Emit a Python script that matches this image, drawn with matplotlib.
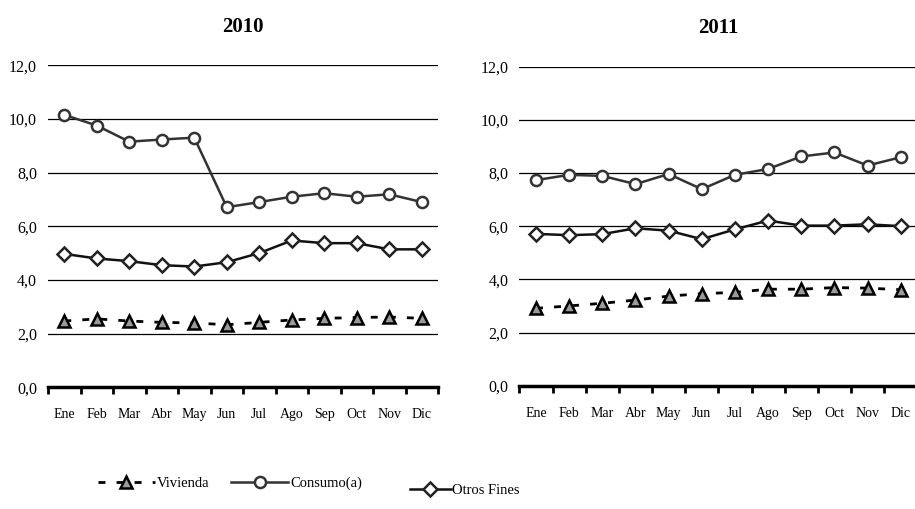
import matplotlib.pyplot as plt
from matplotlib.lines import Line2D
import numpy as np

plt.rcParams['font.family'] = ['Liberation Serif', 'DejaVu Serif']

meses = ["Ene", "Feb", "Mar", "Abr", "May", "Jun", "Jul", "Ago", "Sep", "Oct", "Nov", "Dic"]
anios = ["2010", "2011"]

vivienda_2010 = [2.47, 2.55, 2.47, 2.42, 2.40, 2.33, 2.42, 2.51, 2.57, 2.60, 2.62, 2.57]
consumo_2010 = [10.15, 9.75, 9.15, 9.23, 9.30, 6.71, 6.90, 7.10, 7.23, 7.10, 7.19, 6.90]
otros_2010 = [4.97, 4.80, 4.70, 4.55, 4.50, 4.66, 5.00, 5.47, 5.37, 5.37, 5.14, 5.14]

vivienda_2011 = [2.91, 3.00, 3.10, 3.22, 3.37, 3.46, 3.51, 3.63, 3.63, 3.69, 3.67, 3.61]
consumo_2011 = [7.73, 7.93, 7.89, 7.58, 7.96, 7.39, 7.93, 8.15, 8.62, 8.77, 8.28, 8.59]
otros_2011 = [5.71, 5.66, 5.70, 5.92, 5.83, 5.51, 5.88, 6.21, 6.02, 6.02, 6.07, 6.00]

datos = [(vivienda_2010, consumo_2010, otros_2010),
         (vivienda_2011, consumo_2011, otros_2011)]

fig = plt.figure(figsize=(9.15, 5.09), dpi=100)
posiciones = [[0.0525, 0.239, 0.4262, 0.633], [0.5677, 0.2422, 0.4348, 0.627]]

estilo_viv = dict(color="black", linestyle=(0, (2.5, 4)), linewidth=2, marker="^",
                  markersize=8, markerfacecolor="#9a9a9a", markeredgecolor="black",
                  markeredgewidth=1.8)
estilo_con = dict(color="#333333", linestyle="-", linewidth=1.8, marker="o",
                  markersize=8, markerfacecolor="white", markeredgecolor="#333333",
                  markeredgewidth=1.8)
estilo_otr = dict(color="#111111", linestyle="-", linewidth=1.8, marker="D",
                  markersize=7, markerfacecolor="white", markeredgecolor="#222222",
                  markeredgewidth=1.8)

x = np.arange(len(meses))
for pos, anio, (viv, con, otr) in zip(posiciones, anios, datos):
    ax = fig.add_axes(pos)
    for y in [2, 4, 6, 8, 10, 12]:
        ax.axhline(y, color="black", linewidth=0.9, zorder=1)
    ax.plot(x, viv, zorder=3, clip_on=False, **estilo_viv)
    ax.plot(x, con, zorder=3, clip_on=False, **estilo_con)
    ax.plot(x, otr, zorder=3, clip_on=False, **estilo_otr)
    ax.set_xlim(-0.5, 11.5)
    ax.set_ylim(0, 12)
    for s in ["top", "right", "left"]:
        ax.spines[s].set_visible(False)
    ax.spines["bottom"].set_linewidth(2.5)
    ax.spines["bottom"].set_zorder(4)
    ax.set_xticks(np.arange(-0.5, 12, 1))
    ax.set_xticklabels([])
    ax.set_xticks(x, minor=True)
    ax.set_xticklabels(meses, minor=True, fontsize=10)
    ax.tick_params(axis="x", which="major", direction="out", length=5, width=2)
    ax.tick_params(axis="x", which="minor", length=0, pad=15)
    ax.set_yticks([0, 2, 4, 6, 8, 10, 12])
    ax.set_yticklabels(["0,0", "2,0", "4,0", "6,0", "8,0", "10,0", "12,0"], fontsize=11.5)
    ax.tick_params(axis="y", length=0, pad=8)
    ax.set_title(anio, fontsize=15, fontweight="bold", pad=24)

h_viv = Line2D([], [], **estilo_viv)
h_con = Line2D([], [], **estilo_con)
h_otr = Line2D([], [], **estilo_otr)
fig.legend([h_viv, h_con], ["Vivienda", "Consumo(a)"], loc="center left",
           bbox_to_anchor=(0.107, 0.051), ncol=2, frameon=False, fontsize=10.5,
           handlelength=3.9, handletextpad=0.15, columnspacing=1.5,
           borderpad=0, borderaxespad=0)
fig.legend([h_otr], ["Otros Fines"], loc="center left",
           bbox_to_anchor=(0.448, 0.037), frameon=False, fontsize=10.5,
           handlelength=2.8, handletextpad=0.1, borderpad=0, borderaxespad=0)

fig.savefig("out.png", dpi=100)
